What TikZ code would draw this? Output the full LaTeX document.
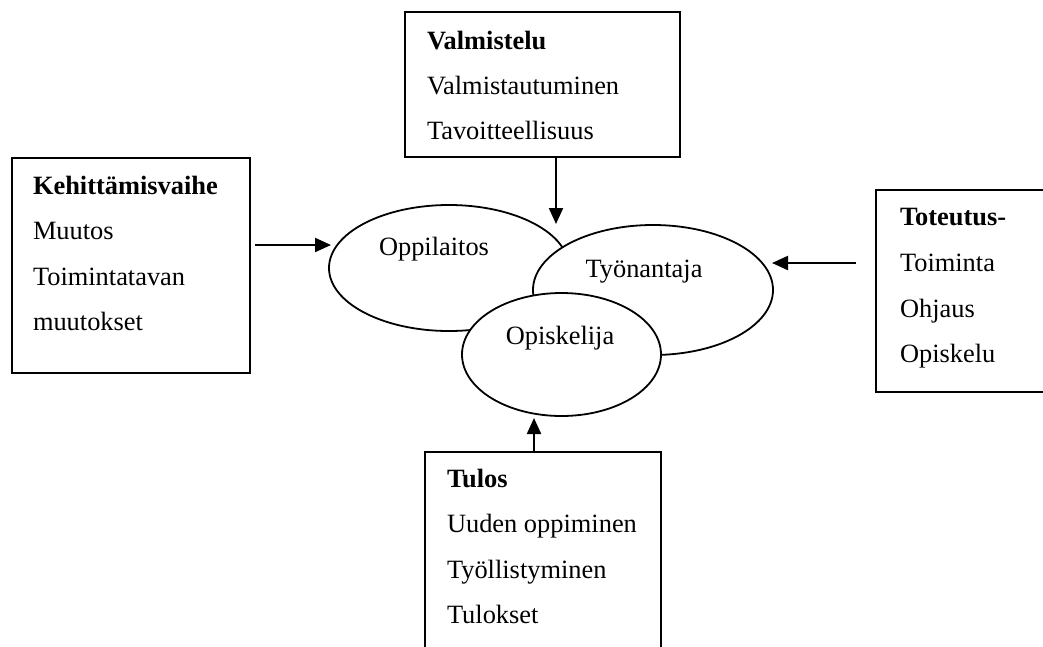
\documentclass[tikz,border=0pt]{standalone}
\usepackage{fontspec}
\setmainfont{Liberation Serif}
\usetikzlibrary{shapes.geometric,arrows.meta}
\begin{document}
\begin{tikzpicture}[x=1pt,y=-1pt,
  every node/.style={inner sep=0pt,outer sep=0pt},
  txt/.style={anchor=base west,font=\fontsize{26.4}{30}\selectfont},
  ttl/.style={txt,font=\fontsize{26.4}{30}\selectfont\bfseries},
  boxline/.style={draw,line width=1.9pt},
  oval/.style={ellipse,draw,fill=white,line width=1.8pt},
  lab/.style={anchor=base,font=\fontsize{26.4}{30}\selectfont},
  arr/.style={line width=2.2pt,-{Triangle[length=16pt,width=14pt]}}
]
\useasboundingbox (0,0) rectangle (1043,646);
\clip (0,0) rectangle (1043,646);
\fill[white] (0,0) rectangle (1043,646);

% boxes
\node[boxline,minimum width=275pt,minimum height=145pt,anchor=north west] (topbox) at (405,12) {};
\node[boxline,minimum width=238pt,minimum height=215pt,anchor=north west] (leftbox) at (12,158) {};
\node[boxline,minimum width=190pt,minimum height=202pt,anchor=north west] (rightbox) at (876,190) {};
\node[boxline,minimum width=236pt,minimum height=215pt,anchor=north west] (botbox) at (425,452) {};

% box texts
\node[ttl] (t1) at (427,49) {Valmistelu};
\node[txt] (t2) at (427,94) {Valmistautuminen};
\node[txt] (t3) at (427,139) {Tavoitteellisuus};

\node[ttl] (l1) at (33,194) {Kehittämisvaihe};
\node[txt] (l2) at (33,239) {Muutos};
\node[txt] (l3) at (33,285) {Toimintatavan};
\node[txt] (l4) at (33,330) {muutokset};

\node[ttl] (r1) at (900,225) {Toteutus-};
\node[txt] (r2) at (900,271) {Toiminta};
\node[txt] (r3) at (900,317) {Ohjaus};
\node[txt] (r4) at (900,362) {Opiskelu};

\node[ttl] (b1) at (447,487) {Tulos};
\node[txt] (b2) at (447,532) {Uuden oppiminen};
\node[txt] (b3) at (447,578) {Työllistyminen};
\node[txt] (b4) at (447,623) {Tulokset};

% ellipses
\node[oval,minimum width=240pt,minimum height=126pt] (opp) at (449,268) {};
\node[oval,minimum width=240pt,minimum height=130pt] (tyo) at (653,290) {};
\node[oval,minimum width=199pt,minimum height=123pt] (opi) at (561.5,354.5) {};

\node[lab] (oppl) at (434,255) {Oppilaitos};
\node[lab] (tyol) at (644,277) {Työnantaja};
\node[lab] (opil) at (560,344) {Opiskelija};

% arrow end points
\coordinate (topTip) at (556,224);
\coordinate (leftStart) at (255,245);
\coordinate (leftTip) at (331,245);
\coordinate (rightStart) at (856,263);
\coordinate (rightTip) at (772,263);
\coordinate (botTip) at (534,418);

\draw[arr] (topbox.south -| topTip) -- (topTip);
\draw[arr] (leftStart) -- (leftTip);
\draw[arr] (rightStart) -- (rightTip);
\draw[arr] (botbox.north -| botTip) -- (botTip);
\end{tikzpicture}
\end{document}
